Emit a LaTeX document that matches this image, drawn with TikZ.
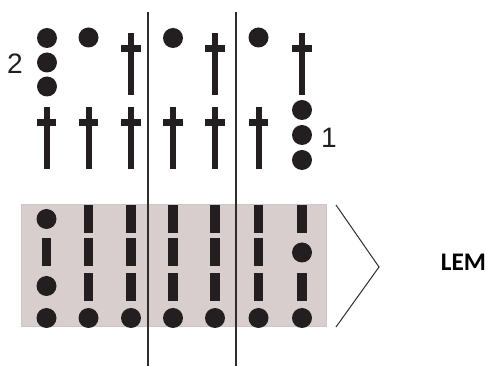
\documentclass[tikz,border=0pt]{standalone}
\usepackage{fontspec}
\setmainfont{Liberation Sans}
\newfontfamily\lemfont{Carlito}
\usepackage{tikz}
\usetikzlibrary{shapes,arrows}

\definecolor{ink}{RGB}{35,31,32}
\definecolor{boxfill}{RGB}{216,206,206}
\definecolor{boxline}{RGB}{200,198,198}
\definecolor{divider}{RGB}{45,45,45}

\begin{document}
\begin{tikzpicture}[
    x=0.25mm, y=-0.25mm,
    dot/.style={circle, fill=ink, inner sep=0, minimum size=5mm},
    bar/.style={rectangle, fill=ink, inner sep=0, minimum width=2.4mm, minimum height=7mm},
    cross/.style={rectangle, inner sep=0, minimum width=4.9mm, minimum height=15.5mm,
        path picture={
            \fill[ink] ([xshift=-0.75mm]path picture bounding box.north) rectangle ([xshift=0.75mm]path picture bounding box.south);
            \fill[ink] ([yshift=-3mm]path picture bounding box.north west) rectangle ([yshift=-4.6mm]path picture bounding box.north east);
        }},
    num/.style={font=\fontsize{20}{20}\selectfont, text=ink, inner sep=0},
    divline/.style={draw=divider, line width=0.35mm},
    chevron/.style={draw=divider, line width=0.25mm}
]
\useasboundingbox (0,0) rectangle (489,367);

% Box
\node[rectangle, draw=boxline, fill=boxfill, line width=0.25mm, minimum width=76mm, minimum height=30.5mm, inner sep=0] (box) at (174,266) {};

% Top row
\node[dot] (t1a) at (47,38) {};
\node[dot] (t1b) at (47,62.5) {};
\node[dot] (t1c) at (47,86.5) {};
\node[dot] (t2) at (88.5,37.5) {};
\node[cross, anchor=north] (t3) at (131,33) {};
\node[dot] (t4) at (173,38) {};
\node[cross, anchor=north] (t5) at (215,33) {};
\node[dot] (t6) at (258.5,37.5) {};
\node[cross, anchor=north] (t7) at (302,33) {};

% Second row
\node[cross, anchor=north] (s1) at (46.5,107) {};
\node[cross, anchor=north] (s2) at (88.5,107) {};
\node[cross, anchor=north] (s3) at (131,107) {};
\node[cross, anchor=north] (s4) at (173,107) {};
\node[cross, anchor=north] (s5) at (215,107) {};
\node[cross, anchor=north] (s6) at (258.5,107) {};
\node[dot] (s7a) at (302,110) {};
\node[dot] (s7b) at (302,135) {};
\node[dot] (s7c) at (302,160) {};

% Labels
\node[num] (two) at (15,64) {2};
\node[num] (one) at (329,138) {1};

% Box contents
\node[dot] (b1a) at (46.5,219) {};
\node[bar] (b1b) at (46.5,252.5) {};
\node[dot] (b1c) at (46.5,286) {};
\foreach \i/\x in {2/88.5,3/131,4/173,5/215,6/258.5}{
    \node[bar] (b\i a) at (\x,219) {};
    \node[bar] (b\i b) at (\x,252.5) {};
    \node[bar] (b\i c) at (\x,287) {};
}
\node[bar] (b7a) at (302,219) {};
\node[dot] (b7b) at (302,252.5) {};
\node[bar] (b7c) at (302,287) {};
\foreach \i/\x in {1/46.5,2/88.5,3/131,4/173,5/215,6/258.5,7/302}
    \node[dot] (b\i d) at (\x,318) {};

% Dividers
\coordinate (d1top) at (148,12);
\coordinate (d1bot) at (148,366);
\coordinate (d2top) at (236,12);
\coordinate (d2bot) at (236,366);
\draw[divline] (d1top) -- (d1bot);
\draw[divline] (d2top) -- (d2bot);

% Chevron and label
\coordinate (chtop) at (336,205);
\coordinate (chtip) at (379,267);
\coordinate (chbot) at (336,327);
\draw[chevron] (chtop) -- (chtip) -- (chbot);
\node[font=\lemfont\bfseries\fontsize{18}{18}\selectfont, inner sep=0] (lem) at (463.5,262) {LEM};

\end{tikzpicture}
\end{document}
